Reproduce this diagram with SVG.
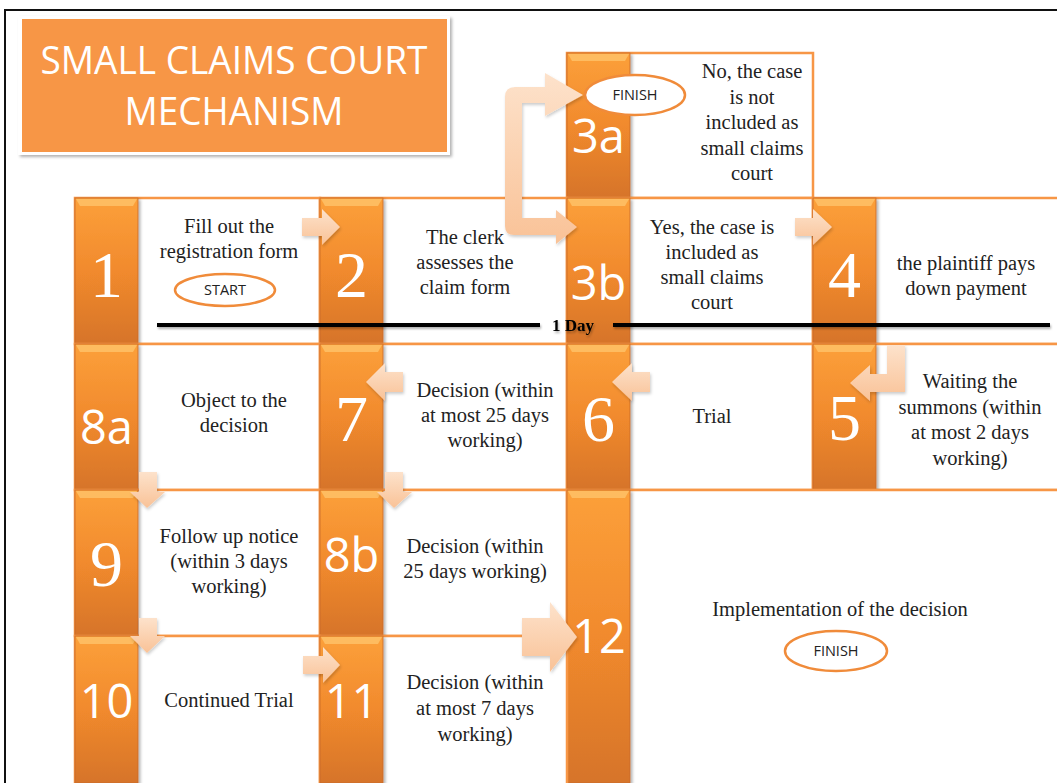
<svg xmlns="http://www.w3.org/2000/svg" width="1057" height="783" viewBox="0 0 1057 783">
<defs>
  <linearGradient id="barGrad" x1="0" y1="0" x2="0" y2="1">
    <stop offset="0" stop-color="#FCA03A"/>
    <stop offset="0.5" stop-color="#F18A2D"/>
    <stop offset="1" stop-color="#D6742A"/>
  </linearGradient>
  <linearGradient id="arrowGrad" x1="0" y1="0" x2="0" y2="1">
    <stop offset="0" stop-color="#FDE2CB"/>
    <stop offset="1" stop-color="#F9C297"/>
  </linearGradient>
  <filter id="shadow" x="-20%" y="-20%" width="140%" height="140%">
    <feDropShadow dx="2" dy="2" stdDeviation="1.5" flood-color="#000" flood-opacity="0.3"/>
  </filter>
  <filter id="ashadow" x="-20%" y="-20%" width="140%" height="140%">
    <feDropShadow dx="1" dy="2" stdDeviation="1.5" flood-color="#000" flood-opacity="0.2"/>
  </filter>
  <filter id="lshadow" filterUnits="userSpaceOnUse" x="0" y="300" width="1057" height="50">
    <feDropShadow dx="1" dy="2" stdDeviation="1.2" flood-color="#000" flood-opacity="0.3"/>
  </filter>
</defs>
<style>
  .frame{fill:none;stroke:#111;stroke-width:2}
  .cell{fill:#fff;stroke:#F79646;stroke-width:2.5}
  .bar{fill:url(#barGrad);stroke:#C9692A;stroke-width:0.8;filter:url(#shadow)}
  .bevel{fill:#FFC66E;opacity:0.75}
  .ns{font-family:"Liberation Serif","Times New Roman",serif;font-size:66px;fill:#fff;text-anchor:middle}
  .nn{font-family:"Open Sans","Liberation Sans",sans-serif;font-size:47px;fill:#fff;text-anchor:middle}
  .t{font-family:"Liberation Serif","Times New Roman",serif;font-size:20.5px;fill:#222;text-anchor:middle}
  .oval{fill:#fff;stroke:#F08B3A;stroke-width:2.5}
  .ot{font-family:"Open Sans","Liberation Sans",sans-serif;font-size:14.5px;fill:#222;text-anchor:middle}
  .arrow{fill:url(#arrowGrad);filter:url(#ashadow)}
  .day{fill:#000}
  .dayt{font-family:"Liberation Serif","Times New Roman",serif;font-size:17px;font-weight:bold;fill:#000;text-anchor:middle}
  .title{font-family:"Open Sans","Liberation Sans",sans-serif;font-size:38px;fill:#fff;text-anchor:middle}
</style>
<rect x="0" y="0" width="1057" height="783" fill="#fff"/>
<rect class="frame" x="5" y="10" width="1100" height="800"/>

<g id="title">
  <rect x="18" y="16" width="432" height="139" fill="#fff" filter="url(#shadow)"/>
  <rect x="22" y="19" width="425" height="133" fill="#F79646"/>
  <text class="title" x="234" y="74" textLength="387" lengthAdjust="spacingAndGlyphs">SMALL CLAIMS COURT</text>
  <text class="title" x="234" y="125" textLength="219" lengthAdjust="spacingAndGlyphs">MECHANISM</text>
</g>

<g id="step-3a">
  <rect class="cell" x="567" y="53" width="246" height="145"/>
  <rect class="bar" x="567" y="53" width="63" height="145"/>
  <polygon class="bevel" points="568,54 629,54 625,61 572,61"/>
  <text class="nn" x="598.5" y="153">3a</text>
  <ellipse class="oval" cx="635" cy="95" rx="50" ry="20"/>
  <text class="ot" x="635" y="100">FINISH</text>
  <text class="t" x="752"><tspan x="752" y="78">No, the case</tspan><tspan x="752" y="104">is not</tspan><tspan x="752" y="129">included as</tspan><tspan x="752" y="155">small claims</tspan><tspan x="752" y="180">court</tspan></text>
</g>

<g id="step-1">
  <rect class="cell" x="75" y="198" width="245" height="146"/>
  <rect class="bar" x="75" y="198" width="63" height="146"/>
  <polygon class="bevel" points="76,199 137,199 133,206 80,206"/>
  <text class="ns" x="106.5" y="297">1</text>
  <text class="t"><tspan x="229" y="233">Fill out the</tspan><tspan x="229" y="258">registration form</tspan></text>
  <ellipse class="oval" cx="225" cy="290" rx="50" ry="16"/>
  <text class="ot" x="225" y="295">START</text>
</g>

<g id="step-2">
  <rect class="cell" x="320" y="198" width="247" height="146"/>
  <rect class="bar" x="320" y="198" width="63" height="146"/>
  <polygon class="bevel" points="321,199 382,199 378,206 325,206"/>
  <text class="ns" x="351.5" y="297">2</text>
  <text class="t"><tspan x="465" y="244">The clerk</tspan><tspan x="465" y="269">assesses the</tspan><tspan x="465" y="294">claim form</tspan></text>
</g>

<g id="step-3b">
  <rect class="cell" x="567" y="198" width="246" height="146"/>
  <rect class="bar" x="567" y="198" width="63" height="146"/>
  <polygon class="bevel" points="568,199 629,199 625,206 572,206"/>
  <text class="nn" x="598.5" y="300">3b</text>
  <text class="t"><tspan x="712" y="234">Yes, the case is</tspan><tspan x="712" y="259">included as</tspan><tspan x="712" y="284">small claims</tspan><tspan x="712" y="309">court</tspan></text>
</g>

<g id="step-4">
  <rect class="cell" x="813" y="198" width="260" height="146"/>
  <rect class="bar" x="813" y="198" width="63" height="146"/>
  <polygon class="bevel" points="814,199 875,199 871,206 818,206"/>
  <text class="ns" x="844.5" y="297">4</text>
  <text class="t"><tspan x="966" y="270">the plaintiff pays</tspan><tspan x="966" y="295">down payment</tspan></text>
</g>

<g id="step-8a">
  <rect class="cell" x="75" y="344" width="245" height="146"/>
  <rect class="bar" x="75" y="344" width="63" height="146"/>
  <polygon class="bevel" points="76,345 137,345 133,352 80,352"/>
  <text class="nn" x="106.5" y="444">8a</text>
  <text class="t"><tspan x="234" y="407">Object to the</tspan><tspan x="234" y="432">decision</tspan></text>
</g>

<g id="step-7">
  <rect class="cell" x="320" y="344" width="247" height="146"/>
  <rect class="bar" x="320" y="344" width="63" height="146"/>
  <polygon class="bevel" points="321,345 382,345 378,352 325,352"/>
  <text class="ns" x="351.5" y="441">7</text>
  <text class="t"><tspan x="485" y="397">Decision (within</tspan><tspan x="485" y="422">at most 25 days</tspan><tspan x="485" y="447">working)</tspan></text>
</g>

<g id="step-6">
  <rect class="cell" x="567" y="344" width="246" height="146"/>
  <rect class="bar" x="567" y="344" width="63" height="146"/>
  <polygon class="bevel" points="568,345 629,345 625,352 572,352"/>
  <text class="ns" x="598.5" y="441">6</text>
  <text class="t" x="712" y="423">Trial</text>
</g>

<g id="step-5">
  <rect class="cell" x="813" y="344" width="260" height="146"/>
  <rect class="bar" x="813" y="344" width="63" height="146"/>
  <polygon class="bevel" points="814,345 875,345 871,352 818,352"/>
  <text class="ns" x="844.5" y="440">5</text>
  <text class="t"><tspan x="970" y="388">Waiting the</tspan><tspan x="970" y="414">summons (within</tspan><tspan x="970" y="439">at most 2 days</tspan><tspan x="970" y="465">working)</tspan></text>
</g>

<g id="step-9">
  <rect class="cell" x="75" y="490" width="245" height="146"/>
  <rect class="bar" x="75" y="490" width="63" height="146"/>
  <polygon class="bevel" points="76,491 137,491 133,498 80,498"/>
  <text class="ns" x="106.5" y="586">9</text>
  <text class="t"><tspan x="229" y="543">Follow up notice</tspan><tspan x="229" y="568">(within 3 days</tspan><tspan x="229" y="593">working)</tspan></text>
</g>

<g id="step-8b">
  <rect class="cell" x="320" y="490" width="247" height="146"/>
  <rect class="bar" x="320" y="490" width="63" height="146"/>
  <polygon class="bevel" points="321,491 382,491 378,498 325,498"/>
  <text class="nn" x="351.5" y="572">8b</text>
  <text class="t"><tspan x="475" y="553">Decision (within</tspan><tspan x="475" y="578">25 days working)</tspan></text>
</g>

<g id="step-12">
  <rect class="cell" x="567" y="490" width="506" height="310"/>
  <rect class="bar" x="567" y="490" width="63" height="293"/>
  <polygon class="bevel" points="568,491 629,491 625,498 572,498"/>
  <text class="nn" x="599" y="653">12</text>
  <text class="t" x="840" y="616">Implementation of the decision</text>
  <ellipse class="oval" cx="836" cy="651" rx="51" ry="20"/>
  <text class="ot" x="836" y="656">FINISH</text>
</g>

<g id="step-10">
  <rect class="cell" x="75" y="636" width="245" height="164"/>
  <rect class="bar" x="75" y="636" width="63" height="147"/>
  <polygon class="bevel" points="76,637 137,637 133,644 80,644"/>
  <text class="nn" x="106.5" y="718">10</text>
  <text class="t" x="229" y="707">Continued Trial</text>
</g>

<g id="step-11">
  <rect class="cell" x="320" y="636" width="247" height="164"/>
  <rect class="bar" x="320" y="636" width="63" height="147"/>
  <polygon class="bevel" points="321,637 382,637 378,644 325,644"/>
  <text class="nn" x="351.5" y="718">11</text>
  <text class="t"><tspan x="475" y="689">Decision (within</tspan><tspan x="475" y="715">at most 7 days</tspan><tspan x="475" y="741">working)</tspan></text>
</g>

<g id="timeline" filter="url(#lshadow)">
  <rect class="day" x="157" y="323" width="383" height="4"/>
  <rect class="day" x="613" y="323" width="437" height="4"/>
  <text class="dayt" x="573" y="331">1 Day</text>
</g>

<g id="connectors">
  <!-- 1 to 2 -->
  <polygon class="arrow" points="302,218 322,218 322,209 340,227 322,245 322,236 302,236"/>
  <!-- 2 to 3a / 3b bracket -->
  <path class="arrow" d="M545,87 L545,73 L583,95 L545,116 L545,103 L522,103 L522,218 L556,218 L556,210 L577,227 L556,244 L556,235 L514,235 Q505,235 505,226 L505,97 Q505,87 515,87 Z"/>
  <!-- 3b to 4 -->
  <polygon class="arrow" points="795,218 813,218 813,209 832,227 813,245 813,236 795,236"/>
  <!-- 4 to 5 -->
  <polygon class="arrow" points="887,345 905,345 905,392 870,392 870,401 850,383 870,365 870,374 887,374"/>
  <!-- 5 to 6 -->
  <polygon class="arrow" points="650,372 632,372 632,363 612,382 632,401 632,392 650,392"/>
  <!-- 6 to 7 -->
  <polygon class="arrow" points="403,372 385,372 385,363 366,382 385,401 385,392 403,392"/>
  <!-- 8a to 9 -->
  <polygon class="arrow" points="139,472 157,472 157,492 165,492 147,508 130,492 139,492"/>
  <!-- 7 to 8b -->
  <polygon class="arrow" points="385,472 403,472 403,492 412,492 394,508 377,492 385,492"/>
  <!-- 9 to 10 -->
  <polygon class="arrow" points="139,618 157,618 157,636 165,636 147,653 130,636 139,636"/>
  <!-- 10 to 11 -->
  <polygon class="arrow" points="303,656 323,656 323,647 340,665 323,683 323,674 303,674"/>
  <!-- 8b / 11 to 12 -->
  <polygon class="arrow" points="522,618 550,618 550,602 577,637 550,672 550,656 522,656"/>
</g>
</svg>
